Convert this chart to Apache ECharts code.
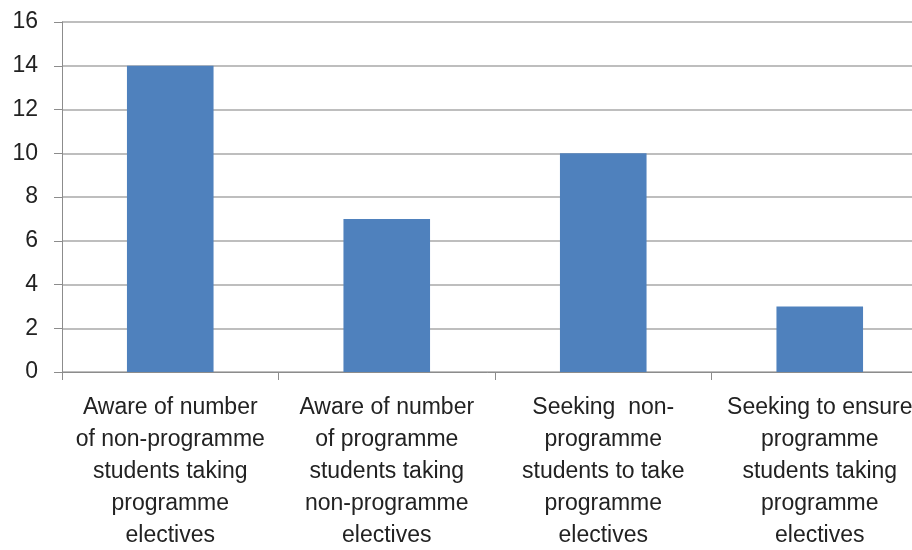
<!DOCTYPE html>
<html>
<head>
<meta charset="utf-8">
<script src="https://cdn.jsdelivr.net/npm/echarts@6/dist/echarts.min.js"></script>
<style>
  html, body { margin: 0; padding: 0; background: #ffffff; }
  #chart { width: 912px; height: 550px; }
</style>
</head>
<body>
<div id="chart"></div>
<script>
// Category labels (line breaks as laid out under each bar)
const categories = [
  'Aware of number\nof non-programme\nstudents taking\nprogramme\nelectives',
  'Aware of number\nof programme\nstudents taking\nnon-programme\nelectives',
  'Seeking  non-\nprogramme\nstudents to take\nprogramme\nelectives',
  'Seeking to ensure\nprogramme\nstudents taking\nprogramme\nelectives'
];
const values = [14, 7, 10, 3];
const yTicks = { min: 0, max: 16, interval: 2 };

const chart = echarts.init(document.getElementById('chart'), null, { renderer: 'canvas' });
chart.setOption({
  animation: false,
  grid: {
    left: 62, top: 22, width: 866, height: 350,
    containLabel: false,
    outerBoundsMode: 'none'
  },
  xAxis: {
    type: 'category',
    data: categories,
    axisLine: { show: true, lineStyle: { color: '#8c8c8c', width: 1 } },
    axisTick: { show: true, alignWithLabel: false, length: 8, lineStyle: { color: '#8c8c8c' } },
    axisLabel: {
      interval: 0,
      margin: 20,
      color: '#222222',
      fontFamily: 'Liberation Sans, Arial, sans-serif',
      fontSize: 23,
      lineHeight: 32,
      hideOverlap: false
    },
    splitLine: { show: false }
  },
  yAxis: {
    type: 'value',
    min: yTicks.min,
    max: yTicks.max,
    interval: yTicks.interval,
    axisLine: { show: true, lineStyle: { color: '#8c8c8c', width: 1 } },
    axisTick: { show: true, length: 8, lineStyle: { color: '#8c8c8c' } },
    axisLabel: {
      margin: 24,
      color: '#222222',
      fontFamily: 'Liberation Sans, Arial, sans-serif',
      fontSize: 23
    },
    splitLine: { show: true, lineStyle: { color: '#a9a9a9', width: 1.5 } }
  },
  series: [{
    type: 'bar',
    data: values,
    barWidth: '40%',
    itemStyle: { color: '#4F81BD' }
  }]
});
</script>
</body>
</html>
